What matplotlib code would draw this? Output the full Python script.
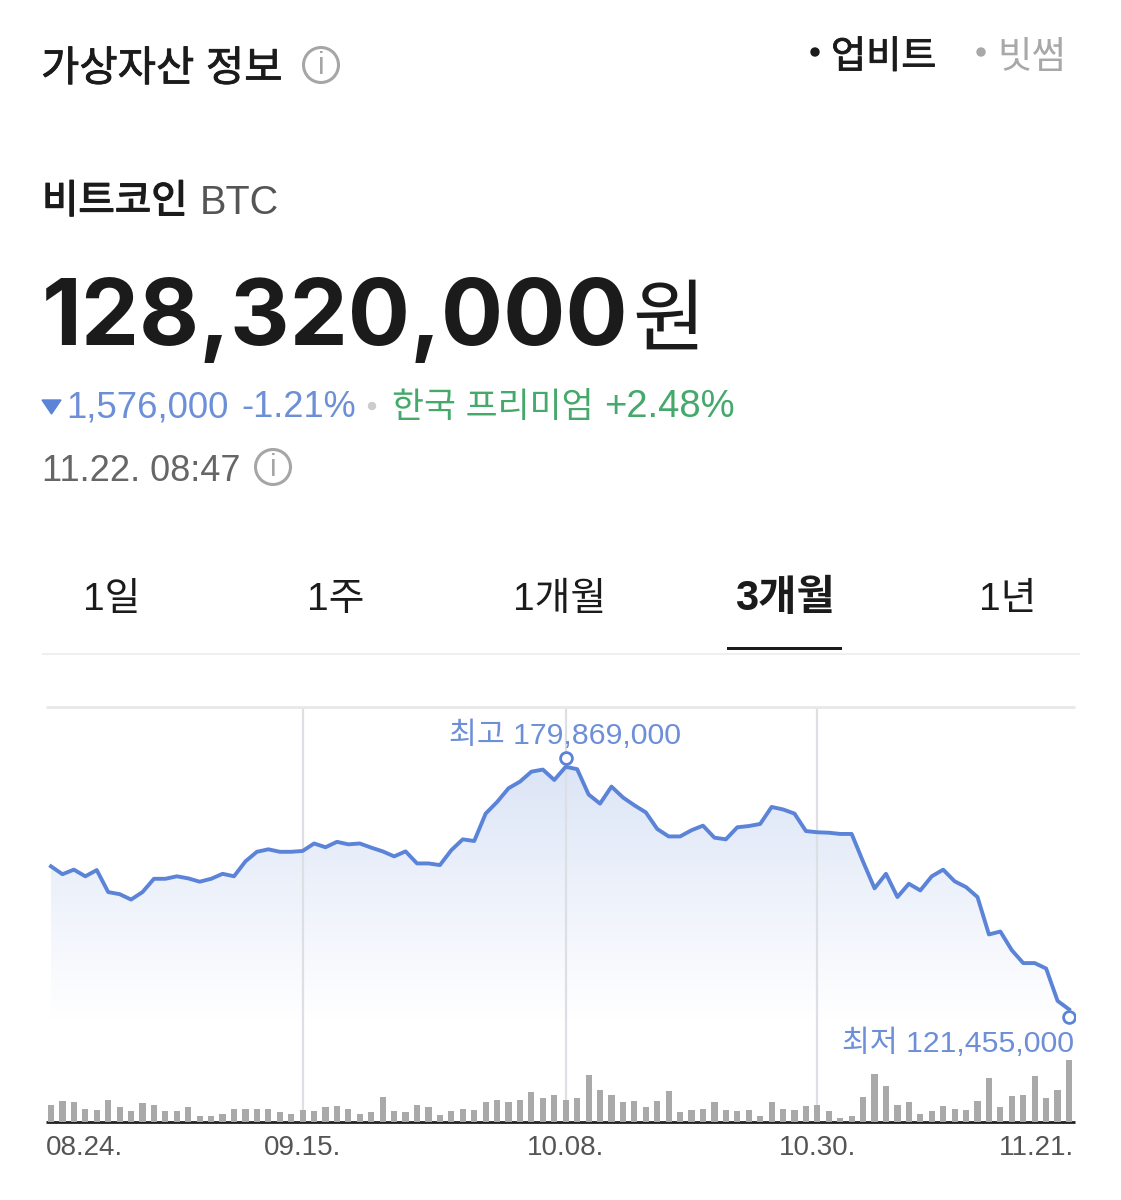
import numpy as np
import matplotlib
matplotlib.use('Agg')
import matplotlib.pyplot as plt
import matplotlib.patheffects as pe
from matplotlib.patches import Circle, Polygon, Rectangle
from matplotlib.transforms import ScaledTranslation, offset_copy

plt.rcParams['font.family'] = ['Liberation Sans', 'Noto Sans CJK KR', 'DejaVu Sans']

# million won
prices = [155.9, 154.0, 155.1, 153.5, 155.0, 149.7, 149.2, 147.9, 149.7, 152.9,
          152.9, 153.5, 153.0, 152.2, 152.9, 154.1, 153.5, 157.1, 159.4, 160.0,
          159.4, 159.4, 159.6, 161.4, 160.5, 161.8, 161.2, 161.4, 160.4, 159.5,
          158.3, 159.5, 156.6, 156.6, 156.2, 159.8, 162.4, 162.0, 168.6, 171.4,
          174.7, 176.3, 178.7, 179.2, 176.7, 179.869, 179.3, 173.2, 171.0, 175.1,
          172.5, 170.6, 168.9, 164.9, 163.1, 163.1, 164.6, 165.7, 162.8, 162.4,
          165.3, 165.6, 166.1, 170.2, 169.6, 168.6, 164.4, 164.1, 164.0, 163.7,
          163.7, 157.0, 150.6, 154.1, 148.5, 151.7, 150.1, 153.5, 155.1, 152.3,
          150.9, 148.5, 139.5, 140.2, 135.7, 132.6, 132.6, 131.3, 123.5, 121.455]

# bar heights, arbitrary units
volumes = [17, 20.5, 19.5, 13, 11.5, 22, 14.5, 11, 18.5, 17,
           11, 11, 14.5, 5.5, 5.5, 8, 13, 13, 13, 13,
           9.5, 8, 11.5, 11, 14.5, 15.5, 13, 8, 9.5, 25,
           11, 9.5, 17, 14.5, 6.5, 11, 13, 11.5, 19.5, 22,
           19.5, 22, 30, 23.5, 27, 22, 23.5, 46.5, 32, 27,
           19.5, 20.5, 14.5, 20.5, 31, 9.5, 11.5, 13, 19.5, 11.5,
           11, 11.5, 5.5, 19.5, 13, 11.5, 15.5, 17, 11, 4,
           5.5, 25, 47.5, 36, 17, 19.5, 8, 11, 15.5, 13,
           11.5, 20.5, 44, 14.5, 26, 27, 46, 23.5, 32, 61.5]

date_ticks = [0, 22, 45, 67, 89]
date_labels = ['08.24.', '09.15.', '10.08.', '10.30.', '11.21.']
high_label = '최고 179,869,000'
low_label = '최저 121,455,000'
tabs = ['1일', '1주', '1개월', '3개월', '1년']

W, H = 1121, 1200
BLUE = '#5b83d8'
LABEL_BLUE = '#6c8fd8'
GREEN = '#45a96c'
DARK = '#1b1b1b'


def box(x0, y0, x1, y1):
    return [x0 / W, 1 - y1 / H, (x1 - x0) / W, (y1 - y0) / H]


def info_icon(ax, x, y):
    ax.add_patch(Circle((x, y), 17.5, fill=False, ec='#a6a6a6', lw=2.2))
    ax.text(x, y + 1, 'i', color='#a6a6a6', fontsize=22, ha='center', va='center')


def medium(color, width=0.6):
    # CJK family has no usable medium weight here, thicken the regular one
    return [pe.withStroke(linewidth=width, foreground=color)]


fig = plt.figure(figsize=(W / 100, H / 100), dpi=100, facecolor='white')

# page text sits on an axes in pixel coordinates
page = fig.add_axes([0, 0, 1, 1])
page.set_xlim(0, W)
page.set_ylim(H, 0)
page.axis('off')

page.text(41, 81, '가상자산 정보', fontsize=30, color=DARK, va='baseline', path_effects=medium(DARK))
info_icon(page, 321, 65)
page.add_patch(Circle((815, 52), 4, color=DARK))
page.text(831, 68, '업비트', fontsize=27.5, color=DARK, va='baseline', path_effects=medium(DARK))
page.add_patch(Circle((981, 52), 4, color='#a8a8a8'))
page.text(997, 68, '빗썸', fontsize=27, color='#a8a8a8', va='baseline')

page.text(42, 213, '비트코인', fontsize=28.5, color=DARK, va='baseline', path_effects=medium(DARK, 1.0))
page.text(200, 214, 'BTC', fontsize=28.5, color='#555555', va='baseline')
page.text(42, 345, '128,320,000', fontsize=66.5, color=DARK, fontweight='bold', va='baseline',
          family=['Inter', 'Liberation Sans'])
page.text(632, 345, '원', fontsize=57, color=DARK, va='baseline')

page.add_patch(Polygon([(42, 400), (61, 400), (51.5, 414)], color=BLUE))
page.text(66, 417, '1,576,000', fontsize=26.4, color=LABEL_BLUE, va='baseline')
page.text(241, 417, '-1.21%', fontsize=26, color=LABEL_BLUE, va='baseline')
page.add_patch(Circle((372, 406), 3.5, color='#cccccc'))
page.text(392, 417, '한국 프리미엄', fontsize=25, color=GREEN, va='baseline')
page.text(604, 417, '+2.48%', fontsize=27.5, color=GREEN, va='baseline')
page.text(42, 481, '11.22. 08:47', fontsize=26, color='#666666', va='baseline')
info_icon(page, 273, 467)

for name, x in zip(tabs, [112, 336, 560, 785, 1008]):
    on = name == '3개월'
    page.text(x, 610, name, fontsize=30 if on else 28, color=DARK, ha='center', va='baseline',
              fontweight='bold' if on else 'normal')
page.add_patch(Rectangle((42, 653), 1038, 2, color='#efefef', lw=0))
page.add_patch(Rectangle((727, 647), 115, 2.5, color=DARK, lw=0))

# chart: price and volume share one pixel box
ax = fig.add_axes(box(46, 707, 1075, 1121.5))
ax.patch.set_alpha(0)
x = np.arange(len(prices))
ax.set_xlim(-5 / 11.44, 89 + 6 / 11.44)
ax.set_ylim(94.45, 194.27)

band = ax.fill_between(x, prices, 94.45, color='none')
grad = np.linspace(0, 1, 256).reshape(-1, 1)
rgb = np.array([0xdc, 0xe5, 0xf6]) / 255 * (1 - grad)[..., None] + grad[..., None]
img = ax.imshow(rgb, extent=(0, 89, 119.0, 180.5), aspect='auto', origin='upper', zorder=1)
img.set_clip_path(band.get_paths()[0], ax.transData)
ax.set_xlim(-5 / 11.44, 89 + 6 / 11.44)
ax.set_ylim(94.45, 194.27)

for t in date_ticks[1:4]:
    ax.axvline(t, color='#dcdfe4', lw=1.6, zorder=2)
ax.plot(x, prices, color=BLUE, lw=2.8, solid_joinstyle='round', zorder=3)

hi = int(np.argmax(prices))
lo = int(np.argmin(prices))
up = offset_copy(ax.transData, fig=fig, y=9, units='dots')
down = offset_copy(ax.transData, fig=fig, y=-8, units='dots')
ax.plot(hi, prices[hi], 'o', ms=8.5, mfc='white', mec=BLUE, mew=2, transform=up, zorder=4)
ax.plot(lo, prices[lo], 'o', ms=8.5, mfc='white', mec=BLUE, mew=2, transform=down, zorder=4)
ax.annotate(high_label, (hi, prices[hi]), xytext=(-1, 23), textcoords='offset pixels',
            ha='center', va='baseline', fontsize=21.8, color=LABEL_BLUE, zorder=5)
ax.annotate(low_label, (lo, prices[lo]), xytext=(5, -43), textcoords='offset pixels',
            ha='right', va='baseline', fontsize=21.8, color=LABEL_BLUE, zorder=5)

vol = ax.twinx()
vol.set_ylim(0, 414.5)
vol.bar(x, volumes, width=0.54, color='#a9a9a9', zorder=3)
vol.set_yticks([])

for spine in ['left', 'right']:
    ax.spines[spine].set_visible(False)
    vol.spines[spine].set_visible(False)
ax.spines['top'].set_color('#e8e8e8')
ax.spines['top'].set_linewidth(2)
ax.spines['top'].set_capstyle('butt')
vol.spines['top'].set_visible(False)
vol.spines['bottom'].set_color('#222222')
vol.spines['bottom'].set_linewidth(2)
vol.spines['bottom'].set_capstyle('butt')
ax.spines['bottom'].set_visible(False)

ax.set_yticks([])
ax.set_xticks(date_ticks)
ax.set_xticklabels(date_labels, fontsize=20, color='#555555')
ax.tick_params(axis='x', length=0, pad=10)
tick_text = ax.get_xticklabels()
tick_text[0].set_ha('left')
tick_text[0].set_transform(tick_text[0].get_transform() + ScaledTranslation(-0.05, 0, fig.dpi_scale_trans))
tick_text[-1].set_ha('right')
tick_text[-1].set_transform(tick_text[-1].get_transform() + ScaledTranslation(0.05, 0, fig.dpi_scale_trans))

fig.savefig('out.png', dpi=100, facecolor='white')
